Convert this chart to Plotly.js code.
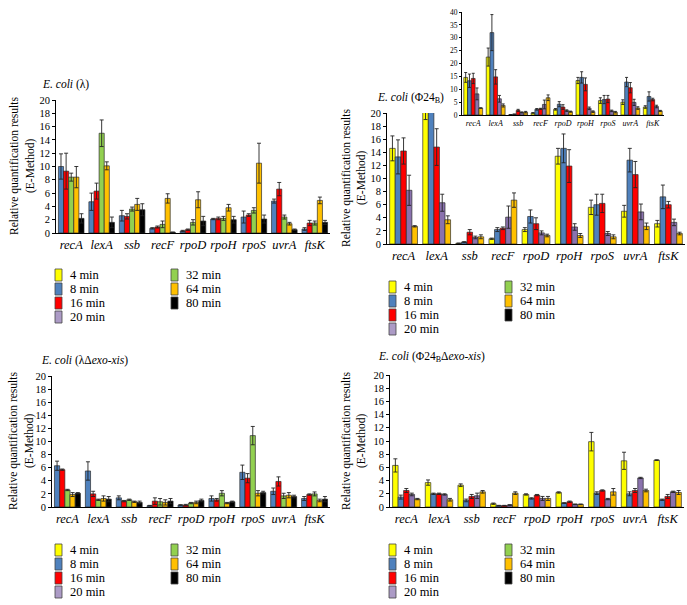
<!DOCTYPE html>
<html>
<head>
<meta charset="utf-8">
<script src="https://cdn.plot.ly/plotly-3.0.1.min.js"></script>
<style>html,body{margin:0;padding:0;background:#fff}#chart{width:687px;height:605px}</style>
</head>
<body>
<div id="chart"></div>
<script>
// ---------- data ----------
const genes = ["recA","lexA","ssb","recF","rpoD","rpoH","rpoS","uvrA","ftsK"];
const timeLabels = ["4 min","8 min","16 min","20 min","32 min","64 min","80 min"];

// Panel A: E. coli (lambda) -- 8,16,32,64,80 min
const a8  = [10.0,4.7,2.6,0.7,0.3,2.1,2.4,4.8,0.6];
const a8e = [1.9,1.3,0.8,0.1,0.1,0.1,0.9,0.3,0.2];
const a16  = [9.3,6.3,2.5,0.9,0.5,2.2,2.7,6.6,1.5];
const a16e = [2.7,1.2,0.4,0.15,0.1,0.2,0.2,1.0,0.4];
const a32  = [8.4,15.0,3.6,1.3,1.6,2.2,3.4,2.4,1.5];
const a32e = [0.6,2.0,0.3,0.5,0.4,0.3,0.4,0.3,0.3];
const a64  = [8.4,10.1,4.3,5.2,5.0,3.8,10.5,1.4,4.9];
const a64e = [1.6,0.6,0.9,0.7,1.2,0.5,3.0,0.2,0.5];
const a80  = [2.2,1.6,3.5,0.1,1.8,2.0,2.1,0.5,1.6];
const a80e = [0.7,0.8,0.9,0.05,0.7,0.5,0.6,0.1,0.3];

// Panel B: E. coli (Phi24B) -- 4,8,16,20,64 min (also drawn in inset)
const b4  = [14.6,22.5,0.1,0.8,2.2,13.4,5.6,5.0,3.1];
const b4e = [1.9,3.5,0.05,0.1,0.3,1.2,1.1,0.9,0.5];
const b8  = [13.3,32.0,0.3,2.2,4.2,14.6,6.0,12.8,7.2];
const b8e = [2.6,7.0,0.05,0.3,1.0,2.2,1.6,1.8,1.8];
const b16  = [14.2,14.8,1.8,2.4,3.1,11.9,6.2,10.6,6.0];
const b16e = [2.0,2.8,0.4,0.2,0.9,2.5,1.4,2.0,0.5];
const b20  = [8.2,6.3,1.0,4.1,1.7,2.6,1.6,4.9,3.3];
const b20e = [2.3,1.3,0.2,1.7,0.3,0.5,0.3,1.2,0.5];
const b64  = [2.7,3.7,1.1,6.7,1.3,1.3,1.1,2.7,1.6];
const b64e = [0.1,0.6,0.3,1.1,0.2,0.3,0.3,0.5,0.2];

// Panel C: E. coli (lambda delta exo-xis) -- 8,16,32,64,80 min
const c8  = [6.3,5.5,1.4,0.2,0.3,1.3,5.3,2.4,1.3];
const c8e = [0.7,1.4,0.3,0.05,0.05,0.4,1.1,0.5,0.3];
const c16  = [5.7,2.0,0.9,0.9,0.3,1.1,4.4,3.9,1.9];
const c16e = [0.1,0.4,0.1,0.5,0.1,0.2,0.7,0.7,0.1];
const c32  = [2.6,1.1,1.1,0.8,0.6,2.1,10.9,1.7,2.0];
const c32e = [0.1,0.1,0.1,0.5,0.1,0.4,1.4,0.4,0.3];
const c64  = [1.9,1.3,0.8,0.7,0.7,0.6,2.1,1.8,1.0];
const c64e = [0.3,0.4,0.1,0.4,0.2,0.1,0.4,0.4,0.2];
const c80  = [2.1,1.2,0.7,0.9,1.0,0.8,2.2,1.6,1.2];
const c80e = [0.1,0.4,0.2,0.4,0.2,0.1,0.2,0.2,0.4];

// Panel D: E. coli (Phi24B delta exo-xis) -- 4,8,16,20,64 min
const d4  = [6.3,3.7,3.3,0.5,1.9,2.2,9.9,7.0,7.1];
const d4e = [1.0,0.4,0.2,0.1,0.1,0.1,1.4,1.3,0.05];
const d8  = [1.5,2.0,1.0,0.2,1.3,0.6,2.1,2.0,1.1];
const d8e = [0.3,0.1,0.2,0.05,0.1,0.05,0.2,0.3,0.1];
const d16  = [2.5,2.0,1.6,0.2,1.8,0.8,2.5,2.5,1.6];
const d16e = [0.3,0.1,0.3,0.05,0.1,0.1,0.1,0.3,0.3];
const d20  = [1.9,1.9,1.7,0.3,1.3,0.4,1.2,4.4,2.3];
const d20e = [0.2,0.1,0.4,0.05,0.3,0.05,0.1,0.1,0.1];
const d64  = [1.2,1.1,2.3,2.1,1.3,0.4,2.3,2.5,2.2];
const d64e = [0.1,0.2,0.2,0.2,0.3,0.05,0.5,0.2,0.3];

const panelTitles = [
  "<i>E. coli</i> (λ)",
  "<i>E. coli</i> (Φ24<sub>B</sub>)",
  "<i>E. coli</i> (λΔ<i>exo-xis</i>)",
  "<i>E. coli</i> (Φ24<sub>B</sub>Δ<i>exo-xis</i>)"
];
const yTitleLines = ["Relative quantification results", "(E-Method)"];

// ---------- styling ----------
const colors = {"4 min":"#FFFF00","8 min":"#4F81BD","16 min":"#FF0000","20 min":"#8A72AE",
                "32 min":"#92D050","64 min":"#FFC000","80 min":"#000000"};
const keyColors = Object.assign({}, colors, {"20 min": "#AC9BC6"});
const FONT = "Liberation Serif";
const W = 687, H = 605;
const px = x => x / W;
const py = y => 1 - y / H;

const traces = [];
function addSeries(name, vals, errs, ax) {
  traces.push({
    type: "bar", x: genes, y: vals, name: name, showlegend: false,
    xaxis: "x" + ax, yaxis: "y" + ax,
    marker: {color: colors[name], line: {color: "rgba(40,40,40,0.85)", width: 0.8}},
    error_y: {type: "data", array: errs, visible: true, color: "#222", thickness: 0.9, width: ax === "3" ? 1.5 : 2},
    hoverinfo: "x+y+name"
  });
}
addSeries("8 min", a8, a8e, "");
addSeries("16 min", a16, a16e, "");
addSeries("32 min", a32, a32e, "");
addSeries("64 min", a64, a64e, "");
addSeries("80 min", a80, a80e, "");

addSeries("4 min", b4, b4e, "2");
addSeries("8 min", b8, b8e, "2");
addSeries("16 min", b16, b16e, "2");
addSeries("20 min", b20, b20e, "2");
addSeries("64 min", b64, b64e, "2");

addSeries("4 min", b4, b4e, "3");
addSeries("8 min", b8, b8e, "3");
addSeries("16 min", b16, b16e, "3");
addSeries("20 min", b20, b20e, "3");
addSeries("64 min", b64, b64e, "3");

addSeries("8 min", c8, c8e, "4");
addSeries("16 min", c16, c16e, "4");
addSeries("32 min", c32, c32e, "4");
addSeries("64 min", c64, c64e, "4");
addSeries("80 min", c80, c80e, "4");

addSeries("4 min", d4, d4e, "5");
addSeries("8 min", d8, d8e, "5");
addSeries("16 min", d16, d16e, "5");
addSeries("20 min", d20, d20e, "5");
addSeries("64 min", d64, d64e, "5");

const italicTicks = genes.map(g => "<i>" + g + "</i>");

function xax(x0, x1, anchor, small) {
  return {
    domain: [px(x0), px(x1)], anchor: anchor, type: "category",
    categoryorder: "array", categoryarray: genes,
    tickvals: genes, ticktext: italicTicks,
    range: [-0.5, 8.5], showline: true, linecolor: "#000", linewidth: 1,
    ticks: "", showgrid: false, zeroline: false, fixedrange: true,
    tickfont: {family: FONT, size: small ? 8 : 12.5, color: "#000"}
  };
}
function yax(ytop, ybot, anchor, max, dtick, small) {
  return {
    domain: [py(ybot), py(ytop)], anchor: anchor, range: [0, max], dtick: dtick,
    showline: true, linecolor: "#000", linewidth: 1, ticks: "outside", ticklen: small ? 2 : 3,
    tickcolor: "#000", showgrid: false, zeroline: false, fixedrange: true,
    tickfont: {family: FONT, size: small ? 7.5 : 10.5, color: "#000"}
  };
}

const layout = {
  width: W, height: H,
  margin: {l: 0, r: 0, t: 0, b: 0},
  paper_bgcolor: "#fff", plot_bgcolor: "rgba(0,0,0,0)",
  barmode: "group", bargap: 0.16, bargroupgap: 0,
  showlegend: false,
  font: {family: FONT, color: "#000"},
  xaxis:  xax(56, 330, "y", false),
  yaxis:  yax(100, 233, "x", 20, 2, false),
  xaxis2: xax(387, 685, "y2", false),
  yaxis2: yax(113, 244, "x2", 20, 2, false),
  xaxis3: xax(462, 664, "y3", true),
  yaxis3: yax(12, 115, "x3", 40, 5, true),
  xaxis4: xax(52, 330, "y4", false),
  yaxis4: yax(376, 507, "x4", 20, 2, false),
  xaxis5: xax(390, 684, "y5", false),
  yaxis5: yax(375, 507, "x5", 20, 2, false),
  annotations: [],
  shapes: []
};

// panel titles
const titlePos = [[40, 84], [375, 98], [39, 360], [376, 357]];
panelTitles.forEach((t, i) => {
  layout.annotations.push({
    text: t, xref: "paper", yref: "paper", x: px(titlePos[i][0]), y: py(titlePos[i][1]),
    xanchor: "left", yanchor: "middle", showarrow: false,
    font: {family: FONT, size: 11.5, color: "#000"}
  });
});

// y-axis titles (two rotated lines per panel)
const yTitlePos = [[15, 31, 166], [346, 361, 178], [13, 29, 441], [346, 361, 441]];
yTitlePos.forEach(p => {
  yTitleLines.forEach((line, k) => {
    layout.annotations.push({
      text: line, xref: "paper", yref: "paper", x: px(p[k]), y: py(p[2]),
      xanchor: "center", yanchor: "middle", textangle: -90, showarrow: false,
      font: {family: FONT, size: 11.5, color: "#000"}
    });
  });
});

// legends (drawn as keys under each panel)
function addLegend(col1x, col2x, rowY) {
  timeLabels.forEach((lab, i) => {
    const col = i < 4 ? 0 : 1;
    const row = i < 4 ? i : i - 4;
    const sx = col === 0 ? col1x : col2x;
    const yy = rowY[row];
    layout.shapes.push({
      type: "rect", xref: "paper", yref: "paper",
      x0: px(sx), x1: px(sx + 7), y0: py(yy + 6), y1: py(yy - 6),
      fillcolor: keyColors[lab], line: {color: "#444", width: 0.8}
    });
    layout.annotations.push({
      text: lab, xref: "paper", yref: "paper", x: px(sx + 13), y: py(yy),
      xanchor: "left", yanchor: "middle", showarrow: false,
      font: {family: FONT, size: 12.5, color: "#000"}
    });
  });
}
addLegend(55, 171, [275, 289, 303, 317]);
addLegend(389, 505, [287, 301, 315, 329]);
addLegend(55, 171, [550, 564, 578, 592]);
addLegend(389, 505, [550, 564, 578, 592]);

Plotly.newPlot("chart", traces, layout, {staticPlot: true, displayModeBar: false});
</script>
</body>
</html>
